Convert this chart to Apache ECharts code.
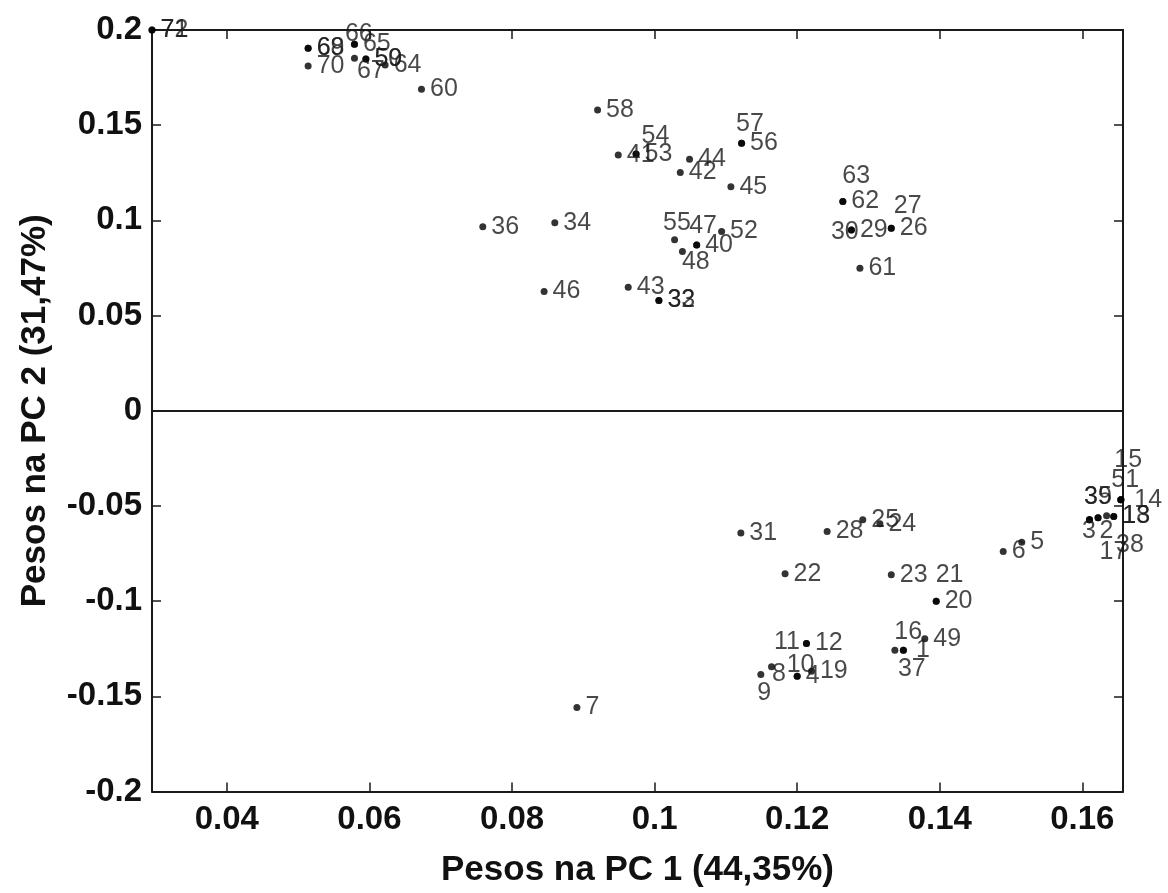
<!DOCTYPE html>
<html>
<head>
<meta charset="utf-8">
<script src="https://cdn.jsdelivr.net/npm/echarts@6/dist/echarts.min.js"></script>
<style>
html,body{margin:0;padding:0;background:#fff;}
#chart{width:1168px;height:893px;}
</style>
</head>
<body>
<div id="chart"></div>
<script>
// sample numbers (point labels)
var ids = [1,2,3,4,5,6,7,8,9,10,11,12,13,14,15,16,17,18,19,20,21,22,23,24,25,26,27,28,29,30,31,32,33,34,35,36,
	37,38,39,40,41,42,43,44,45,46,47,48,49,50,51,52,53,54,55,56,57,58,59,60,61,62,63,64,65,66,67,68,69,70,71,72];
// pesos na PC 1
var pc1 = [0.1349,0.1622,0.1610,0.1200,0.1515,0.1489,0.0891,0.1164,0.1149,0.1200,0.1213,0.1213,
	0.1644,0.1654,0.1654,0.1337,0.1622,0.1644,0.1220,0.1395,0.1395,0.1183,0.1332,0.1316,
	0.1292,0.1332,0.1332,0.1242,0.1276,0.1276,0.1121,0.1006,0.1006,0.0860,0.1610,0.0759,
	0.1349,0.1634,0.1610,0.1059,0.0949,0.1036,0.0963,0.1049,0.1107,0.0845,0.1059,0.1039,
	0.1379,0.0595,0.1654,0.1094,0.0974,0.0974,0.1028,0.1122,0.1122,0.0920,0.0595,0.0673,
	0.1288,0.1264,0.1264,0.0622,0.0579,0.0579,0.0579,0.0514,0.0514,0.0514,0.0295,0.0295];
// pesos na PC 2
var pc2 = [-0.1258,-0.0562,-0.0572,-0.1395,-0.0691,-0.0739,-0.1559,-0.1345,-0.1386,-0.1395,-0.1223,-0.1223,
	-0.0556,-0.0467,-0.0467,-0.1258,-0.0562,-0.0556,-0.1368,-0.1001,-0.1001,-0.0856,-0.0861,-0.0593,
	-0.0572,0.0959,0.0959,-0.0634,0.0950,0.0950,-0.0642,0.0579,0.0579,0.0988,-0.0572,0.0967,
	-0.1258,-0.0551,-0.0572,0.0871,0.1344,0.1251,0.0649,0.1321,0.1177,0.0626,0.0871,0.0836,
	-0.1198,0.1848,-0.0467,0.0941,0.1349,0.1349,0.0898,0.1405,0.1405,0.1580,0.1848,0.1689,
	0.0749,0.1099,0.1099,0.1816,0.1925,0.1925,0.1851,0.1904,0.1904,0.1811,0.2000,0.2000];
// tick labels
var xTicks = [0.04,0.06,0.08,0.1,0.12,0.14,0.16];
var yTicks = [-0.2,-0.15,-0.1,-0.05,0,0.05,0.1,0.15,0.2];

// label nudges (px) where labels sit off the usual right-hand spot
var labelShift = {
	1:[4,0], 2:[-7,13], 3:[-16,11], 8:[-8,7], 9:[-12,18], 10:[-19,-11], 11:[-41,-1],
	14:[5,0], 15:[-15,-40], 16:[-9,-18], 17:[-7,34], 21:[-9,-26], 27:[-6,-22], 30:[-29,2],
	35:[-14,-23], 37:[-14,19], 38:[1,29], 39:[-14,-23], 47:[-16,-19], 48:[-9,11],
	51:[-18,-20], 54:[-3,-18], 55:[-20,-17], 57:[-14,-19], 63:[-9,-25], 66:[-18,-10], 67:[-6,13]
};

var points = [];
for(var i=0;i<ids.length;i++){
	var item = {name:String(ids[i]), value:[pc1[i],pc2[i]]};
	if(labelShift[ids[i]]){
		item.label = {offset:labelShift[ids[i]]};
	}
	points.push(item);
}

var axisLine = {show:true, onZero:false, lineStyle:{color:'#1a1a1a', width:2}};
var tickStyle = {inside:true, length:9, lineStyle:{color:'#1a1a1a', width:1.5}};
var labelFont = {fontFamily:'Liberation Sans, Arial, sans-serif', fontWeight:'bold', fontSize:33, color:'#111'};
var nameFont = {fontFamily:'Liberation Sans, Arial, sans-serif', fontWeight:'bold', fontSize:35, color:'#111', verticalAlign:'middle'};
function fmt(v){ return String(v); }

var chart = echarts.init(document.getElementById('chart'));
chart.setOption({
	backgroundColor:'#fff',
	animation:false,
	grid:{left:152, right:45, top:30, bottom:101},
	xAxis:[{
		type:'value', position:'bottom', min:0.0295, max:0.1657,
		axisLine:axisLine,
		axisTick:Object.assign({customValues:xTicks}, tickStyle),
		axisLabel:Object.assign({customValues:xTicks, margin:12, formatter:fmt}, labelFont),
		splitLine:{show:false},
		name:'Pesos na PC 1 (44,35%)', nameLocation:'middle', nameGap:79,
		nameTextStyle:nameFont
	},{
		type:'value', position:'top', min:0.0295, max:0.1657,
		axisLine:axisLine,
		axisTick:Object.assign({customValues:xTicks}, tickStyle),
		axisLabel:{show:false}, splitLine:{show:false}
	}],
	yAxis:[{
		type:'value', position:'left', min:-0.2, max:0.2,
		axisLine:axisLine,
		axisTick:Object.assign({customValues:yTicks}, tickStyle),
		axisLabel:Object.assign({customValues:yTicks, margin:10, formatter:fmt}, labelFont),
		splitLine:{show:false},
		name:'Pesos na PC 2 (31,47%)', nameLocation:'middle', nameGap:117,
		nameTextStyle:nameFont
	},{
		type:'value', position:'right', min:-0.2, max:0.2,
		axisLine:axisLine,
		axisTick:Object.assign({customValues:yTicks}, tickStyle),
		axisLabel:{show:false}, splitLine:{show:false}
	}],
	series:[{
		type:'scatter',
		xAxisIndex:0, yAxisIndex:0,
		clip:false,
		symbol:'circle', symbolSize:7,
		itemStyle:{color:'#000'},
		label:{
			show:true, position:'right', distance:5,
			formatter:'{b}',
			fontFamily:'Liberation Sans, Arial, sans-serif', fontSize:25, color:'#1a1a1a'
		},
		data:points,
		markLine:{
			silent:true, symbol:'none', label:{show:false},
			lineStyle:{color:'#1a1a1a', width:2, type:'solid'},
			data:[{yAxis:0}]
		}
	}]
});
</script>
</body>
</html>
